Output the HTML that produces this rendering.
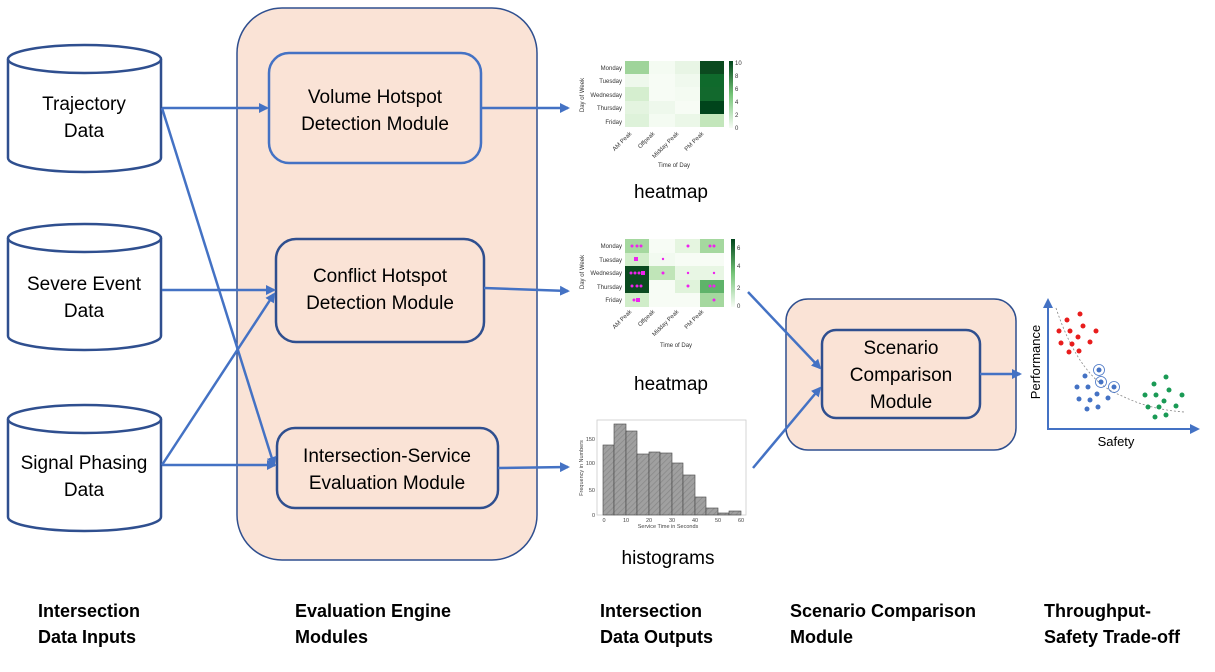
<!DOCTYPE html>
<html><head><meta charset="utf-8"><style>
body{margin:0;background:#fff}
svg{display:block;font-family:"Liberation Sans",sans-serif}
</style></head><body>
<svg width="1215" height="672" viewBox="0 0 1215 672" xmlns="http://www.w3.org/2000/svg">
<defs>
<marker id="ah" markerWidth="10" markerHeight="10" refX="8" refY="5" orient="auto" markerUnits="userSpaceOnUse">
<path d="M0,0 L10,5 L0,10 z" fill="#4472c4"/></marker>
<pattern id="hatch" width="4" height="4" patternUnits="userSpaceOnUse" patternTransform="rotate(45)">
<rect width="4" height="4" fill="#a0a0a0"/><line x1="0" y1="0" x2="0" y2="4" stroke="#888" stroke-width="1.5"/></pattern>
</defs>

<!-- cylinders -->
<g fill="#fff" stroke="#2f4f8f" stroke-width="2.5">
<path d="M8,59 L8,158 A76.5,14 0 0 0 161,158 L161,59"/>
<ellipse cx="84.5" cy="59" rx="76.5" ry="14"/>
<path d="M8,238 L8,336 A76.5,14 0 0 0 161,336 L161,238"/>
<ellipse cx="84.5" cy="238" rx="76.5" ry="14"/>
<path d="M8,419 L8,517 A76.5,14 0 0 0 161,517 L161,419"/>
<ellipse cx="84.5" cy="419" rx="76.5" ry="14"/>
</g>
<g font-size="19" text-anchor="middle" fill="#000">
<text x="84" y="110">Trajectory</text><text x="84" y="137">Data</text>
<text x="84" y="290">Severe Event</text><text x="84" y="317">Data</text>
<text x="84" y="469">Signal Phasing</text><text x="84" y="496">Data</text>
</g>

<!-- engine -->
<rect x="237" y="8" width="300" height="552" rx="45" fill="#fae3d6" stroke="#2f4f8f" stroke-width="1.5"/>
<rect x="269" y="53" width="212" height="110" rx="20" fill="#fae3d6" stroke="#4472c4" stroke-width="2.5"/>
<rect x="276" y="239" width="208" height="103" rx="20" fill="#fae3d6" stroke="#2f4f8f" stroke-width="2.5"/>
<rect x="277" y="428" width="221" height="80" rx="18" fill="#fae3d6" stroke="#2f4f8f" stroke-width="2.5"/>
<g font-size="19" text-anchor="middle" fill="#000">
<text x="375" y="103">Volume Hotspot</text><text x="375" y="130">Detection Module</text>
<text x="380" y="282">Conflict Hotspot</text><text x="380" y="309">Detection Module</text>
<text x="387" y="462">Intersection-Service</text><text x="387" y="489">Evaluation Module</text>
</g>

<!-- scenario -->
<rect x="786" y="299" width="230" height="151" rx="22" fill="#fae3d6" stroke="#2f4f8f" stroke-width="1.5"/>
<rect x="822" y="330" width="158" height="88" rx="14" fill="#fae3d6" stroke="#2f4f8f" stroke-width="2.5"/>
<g font-size="19" text-anchor="middle" fill="#000">
<text x="901" y="354">Scenario</text><text x="901" y="381">Comparison</text><text x="901" y="408">Module</text>
</g>

<!-- arrows -->
<g stroke="#4472c4" stroke-width="2.5" fill="none" marker-end="url(#ah)">
<line x1="162" y1="108" x2="267" y2="108"/>
<line x1="162" y1="108" x2="274" y2="465"/>
<line x1="162" y1="290" x2="274" y2="290"/>
<line x1="162" y1="465" x2="275" y2="465"/>
<line x1="162" y1="465" x2="274" y2="294"/>
<line x1="481" y1="108" x2="568" y2="108"/>
<line x1="484" y1="288" x2="568" y2="291"/>
<line x1="498" y1="468" x2="568" y2="467"/>
<line x1="748" y1="292" x2="820" y2="368"/>
<line x1="753" y1="468" x2="820" y2="388"/>
<line x1="980" y1="374" x2="1020" y2="374"/>
</g>

<!-- heatmap 1 -->
<g font-size="6" fill="#333">
<g text-anchor="end"><text x="622" y="70">Monday</text><text x="622" y="83">Tuesday</text><text x="622" y="97">Wednesday</text><text x="622" y="110">Thursday</text><text x="622" y="124">Friday</text></g>
<text transform="translate(584,95) rotate(-90)" text-anchor="middle">Day of Week</text>
<text x="674" y="167" text-anchor="middle">Time of Day</text>
<g text-anchor="end"><text transform="translate(632,134) rotate(-45)">AM Peak</text><text transform="translate(655,134) rotate(-45)">Offpeak</text><text transform="translate(679,134) rotate(-45)">Midday Peak</text><text transform="translate(704,134) rotate(-45)">PM Peak</text></g>
<text x="735" y="65">10</text><text x="735" y="78">8</text><text x="735" y="91">6</text><text x="735" y="104">4</text><text x="735" y="117">2</text><text x="735" y="130">0</text>
</g>
<g>
<rect x="625" y="61" width="24" height="13" fill="#9fd49a"/><rect x="649" y="61" width="26" height="13" fill="#f4fbf2"/><rect x="675" y="61" width="25" height="13" fill="#e8f5e5"/><rect x="700" y="61" width="24" height="13" fill="#0b4a1f"/>
<rect x="625" y="74" width="24" height="13" fill="#eef8ec"/><rect x="649" y="74" width="26" height="13" fill="#f7fcf5"/><rect x="675" y="74" width="25" height="13" fill="#f0f9ee"/><rect x="700" y="74" width="24" height="13" fill="#0f6a2c"/>
<rect x="625" y="87" width="24" height="14" fill="#d5eecf"/><rect x="649" y="87" width="26" height="14" fill="#f7fcf5"/><rect x="675" y="87" width="25" height="14" fill="#f4fbf2"/><rect x="700" y="87" width="24" height="14" fill="#12692d"/>
<rect x="625" y="101" width="24" height="13" fill="#e4f4e0"/><rect x="649" y="101" width="26" height="13" fill="#eef8ec"/><rect x="675" y="101" width="25" height="13" fill="#f7fcf5"/><rect x="700" y="101" width="24" height="13" fill="#00441b"/>
<rect x="625" y="114" width="24" height="13" fill="#def2da"/><rect x="649" y="114" width="26" height="13" fill="#f4fbf2"/><rect x="675" y="114" width="25" height="13" fill="#ebf7e8"/><rect x="700" y="114" width="24" height="13" fill="#c3e6bb"/>
</g>
<defs><linearGradient id="cb" x1="0" y1="1" x2="0" y2="0"><stop offset="0" stop-color="#f7fcf5"/><stop offset="0.5" stop-color="#74c476"/><stop offset="1" stop-color="#00441b"/></linearGradient></defs>
<rect x="729" y="61" width="4" height="67" fill="url(#cb)"/>
<text x="671" y="198" font-size="19" text-anchor="middle">heatmap</text>

<!-- heatmap 2 -->
<g font-size="6" fill="#333">
<g text-anchor="end"><text x="622" y="248">Monday</text><text x="622" y="262">Tuesday</text><text x="622" y="275">Wednesday</text><text x="622" y="289">Thursday</text><text x="622" y="302">Friday</text></g>
<text transform="translate(584,272) rotate(-90)" text-anchor="middle">Day of Week</text>
<text x="676" y="347" text-anchor="middle">Time of Day</text>
<g text-anchor="end"><text transform="translate(632,312) rotate(-45)">AM Peak</text><text transform="translate(655,312) rotate(-45)">Offpeak</text><text transform="translate(679,312) rotate(-45)">Midday Peak</text><text transform="translate(704,312) rotate(-45)">PM Peak</text></g>
<text x="737" y="250">6</text><text x="737" y="268">4</text><text x="737" y="290">2</text><text x="737" y="308">0</text>
</g>
<g>
<rect x="625" y="239" width="24" height="14" fill="#a5d89f"/><rect x="649" y="239" width="26" height="14" fill="#f7fcf5"/><rect x="675" y="239" width="25" height="14" fill="#e5f5e0"/><rect x="700" y="239" width="24" height="14" fill="#a5d89f"/>
<rect x="625" y="253" width="24" height="13" fill="#d0edc9"/><rect x="649" y="253" width="26" height="13" fill="#f2faf0"/><rect x="675" y="253" width="25" height="13" fill="#f7fcf5"/><rect x="700" y="253" width="24" height="13" fill="#f7fcf5"/>
<rect x="625" y="266" width="24" height="14" fill="#0a4a1f"/><rect x="649" y="266" width="26" height="14" fill="#c0e5b8"/><rect x="675" y="266" width="25" height="14" fill="#e8f6e4"/><rect x="700" y="266" width="24" height="14" fill="#e8f6e4"/>
<rect x="625" y="280" width="24" height="13" fill="#0a4a1f"/><rect x="649" y="280" width="26" height="13" fill="#f7fcf5"/><rect x="675" y="280" width="25" height="13" fill="#e0f3db"/><rect x="700" y="280" width="24" height="13" fill="#5fb36a"/>
<rect x="625" y="293" width="24" height="14" fill="#d0edc9"/><rect x="649" y="293" width="26" height="14" fill="#f7fcf5"/><rect x="675" y="293" width="25" height="14" fill="#f7fcf5"/><rect x="700" y="293" width="24" height="14" fill="#a5d89f"/>
</g>
<g fill="#ee22ee">
<circle cx="632" cy="246" r="1.5"/><circle cx="637" cy="246" r="1.5"/><circle cx="641" cy="246" r="1.5"/><circle cx="688" cy="246" r="1.5"/><circle cx="710" cy="246" r="1.5"/><circle cx="714" cy="246" r="1.5"/>
<rect x="634" y="257" width="4" height="4"/><circle cx="663" cy="259" r="1.2"/>
<circle cx="631" cy="273" r="1.5"/><circle cx="635" cy="273" r="1.5"/><circle cx="639" cy="273" r="1.5"/><rect x="641" y="271" width="4" height="4"/><circle cx="663" cy="273" r="1.5"/><circle cx="688" cy="273" r="1.2"/><circle cx="714" cy="273" r="1.2"/>
<circle cx="632" cy="286" r="1.5"/><circle cx="637" cy="286" r="1.5"/><circle cx="641" cy="286" r="1.5"/><circle cx="688" cy="286" r="1.5"/><circle cx="710" cy="286" r="1.5"/><circle cx="714" cy="286" r="1.5"/>
<circle cx="634" cy="300" r="1.5"/><rect x="636" y="298" width="4" height="4"/><circle cx="714" cy="300" r="1.5"/>
</g>
<rect x="731" y="239" width="4" height="68" fill="url(#cb)"/>
<text x="671" y="390" font-size="19" text-anchor="middle">heatmap</text>

<!-- histogram -->
<g>
<rect x="597" y="420" width="149" height="95" fill="#fff" stroke="#ccc" stroke-width="0.8"/>
<g fill="url(#hatch)" stroke="#444" stroke-width="0.6">
<rect x="603" y="445" width="11" height="70"/><rect x="614" y="424" width="12" height="91"/><rect x="626" y="431" width="11" height="84"/><rect x="637" y="454" width="12" height="61"/><rect x="649" y="452" width="11" height="63"/><rect x="660" y="453" width="12" height="62"/><rect x="672" y="463" width="11" height="52"/><rect x="683" y="475" width="12" height="40"/><rect x="695" y="497" width="11" height="18"/><rect x="706" y="508" width="12" height="7"/><rect x="718" y="513" width="11" height="2"/><rect x="729" y="511" width="12" height="4"/>
</g>
<g font-size="5.5" fill="#444" text-anchor="middle">
<text x="604" y="522">0</text><text x="626" y="522">10</text><text x="649" y="522">20</text><text x="672" y="522">30</text><text x="695" y="522">40</text><text x="718" y="522">50</text><text x="741" y="522">60</text>
<text x="668" y="528">Service Time in Seconds</text>
<text transform="translate(583,468) rotate(-90)">Frequency in Numbers</text>
</g>
<g font-size="5.5" fill="#444" text-anchor="end"><text x="595" y="517">0</text><text x="595" y="492">50</text><text x="595" y="465">100</text><text x="595" y="441">150</text></g>
</g>
<text x="668" y="564" font-size="19" text-anchor="middle">histograms</text>

<!-- scatter -->
<g stroke="#4472c4" stroke-width="2" fill="none" marker-end="url(#ah)">
<line x1="1048" y1="430" x2="1048" y2="300"/>
<line x1="1048" y1="429" x2="1198" y2="429"/>
</g>
<path d="M1056,308 Q1080,380 1120,395 Q1150,410 1185,412" stroke="#888" stroke-width="0.8" stroke-dasharray="2,2" fill="none"/>
<g fill="#e81c1c">
<circle cx="1080" cy="314" r="2.5"/><circle cx="1067" cy="320" r="2.5"/><circle cx="1083" cy="326" r="2.5"/><circle cx="1059" cy="331" r="2.5"/><circle cx="1070" cy="331" r="2.5"/><circle cx="1096" cy="331" r="2.5"/><circle cx="1078" cy="337" r="2.5"/><circle cx="1061" cy="343" r="2.5"/><circle cx="1072" cy="344" r="2.5"/><circle cx="1090" cy="342" r="2.5"/><circle cx="1069" cy="352" r="2.5"/><circle cx="1079" cy="351" r="2.5"/>
</g>
<g fill="#4472c4">
<circle cx="1099" cy="370" r="2.5"/><circle cx="1085" cy="376" r="2.5"/><circle cx="1101" cy="382" r="2.5"/><circle cx="1114" cy="387" r="2.5"/><circle cx="1077" cy="387" r="2.5"/><circle cx="1088" cy="387" r="2.5"/><circle cx="1097" cy="394" r="2.5"/><circle cx="1079" cy="399" r="2.5"/><circle cx="1090" cy="400" r="2.5"/><circle cx="1108" cy="398" r="2.5"/><circle cx="1087" cy="409" r="2.5"/><circle cx="1098" cy="407" r="2.5"/>
</g>
<g fill="none" stroke="#4472c4" stroke-width="0.8"><circle cx="1099" cy="370" r="5.5"/><circle cx="1101" cy="382" r="5.5"/><circle cx="1114" cy="387" r="5.5"/></g>
<g fill="#1a9a55">
<circle cx="1154" cy="384" r="2.5"/><circle cx="1166" cy="377" r="2.5"/><circle cx="1169" cy="390" r="2.5"/><circle cx="1145" cy="395" r="2.5"/><circle cx="1156" cy="395" r="2.5"/><circle cx="1182" cy="395" r="2.5"/><circle cx="1164" cy="401" r="2.5"/><circle cx="1148" cy="407" r="2.5"/><circle cx="1159" cy="407" r="2.5"/><circle cx="1176" cy="406" r="2.5"/><circle cx="1155" cy="417" r="2.5"/><circle cx="1166" cy="415" r="2.5"/>
</g>
<text transform="translate(1040,362) rotate(-90)" font-size="13" text-anchor="middle">Performance</text>
<text x="1116" y="446" font-size="13" text-anchor="middle">Safety</text>

<!-- bottom labels -->
<g font-size="18" font-weight="bold" fill="#000">
<text x="38" y="617">Intersection</text><text x="38" y="643">Data Inputs</text>
<text x="295" y="617">Evaluation Engine</text><text x="295" y="643">Modules</text>
<text x="600" y="617">Intersection</text><text x="600" y="643">Data  Outputs</text>
<text x="790" y="617">Scenario Comparison</text><text x="790" y="643">Module</text>
<text x="1044" y="617">Throughput-</text><text x="1044" y="643">Safety Trade-off</text>
</g>
</svg>
</body></html>
